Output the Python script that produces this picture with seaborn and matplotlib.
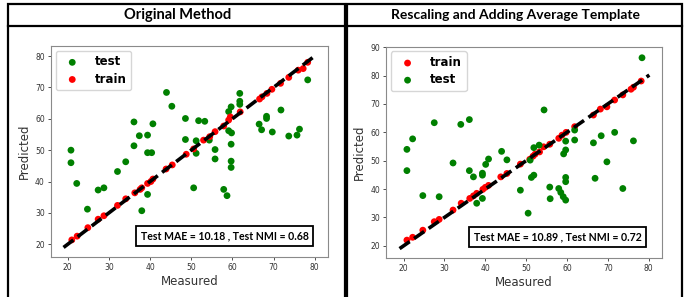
import numpy as np
import matplotlib
matplotlib.use("Agg")
import matplotlib.pyplot as plt
import seaborn as sns
from matplotlib.patches import Rectangle

# ---- data ----
# Original Method
orig_train_x = [21.0, 22.3, 24.9, 27.4, 28.8, 32.1, 34.1, 36.3, 37.6, 38.0, 39.4, 40.2, 40.7,
                43.9, 45.4, 48.8, 50.6, 53.0, 54.5, 55.8, 57.9, 59.1, 59.5, 61.9, 66.6, 67.2,
                68.4, 69.6, 71.7, 73.7, 76.0, 77.2, 78.3]
orig_train_y = [21.4, 22.6, 25.3, 28.0, 29.1, 32.4, 34.5, 36.4, 37.5, 38.0, 39.4, 40.0, 40.8,
                44.0, 45.3, 48.7, 50.4, 53.2, 54.3, 55.9, 57.7, 59.6, 60.6, 62.2, 66.3, 67.0,
                68.1, 69.4, 71.3, 73.2, 75.5, 76.0, 78.0]
orig_test_x = [20.8, 20.8, 22.2, 24.8, 27.4, 28.8, 32.1, 34.1, 36.1, 36.1, 37.4, 38.0, 39.4,
               39.4, 39.4, 40.4, 40.7, 44.0, 45.3, 48.6, 48.6, 50.6, 51.2, 51.2, 51.8, 53.3,
               54.4, 55.8, 55.8, 57.9, 58.7, 59.1, 59.7, 59.1, 59.8, 59.7, 59.7, 59.7, 61.8,
               61.8, 61.8, 66.5, 67.1, 68.3, 68.3, 69.7, 71.8, 73.7, 75.7, 76.3, 78.3]
orig_test_y = [50.0, 46.0, 39.4, 31.2, 37.3, 38.0, 43.2, 46.3, 59.0, 51.4, 54.6, 30.7, 54.8,
               35.9, 49.2, 49.2, 58.4, 68.4, 64.0, 60.1, 53.4, 38.0, 49.0, 53.0, 59.4, 59.2,
               53.2, 50.2, 47.2, 37.5, 35.5, 62.3, 63.8, 56.2, 55.5, 51.9, 46.5, 44.5, 68.1,
               65.6, 64.6, 58.3, 56.5, 60.8, 60.1, 55.8, 62.8, 54.5, 54.8, 56.7, 72.4]

# Rescaling and Adding Average Template
resc_train_x = [20.8, 22.2, 24.7, 27.5, 28.7, 32.1, 34.1, 36.2, 37.1, 37.9, 39.4, 40.0, 40.8,
                43.8, 45.3, 48.6, 50.9, 51.7, 52.2, 53.3, 54.3, 55.8, 58.0, 58.8, 59.8, 61.9,
                66.5, 68.2, 69.8, 71.7, 73.7, 75.7, 76.3, 78.2]
resc_train_y = [22.0, 23.0, 25.5, 28.5, 29.3, 32.6, 35.0, 36.7, 37.6, 38.5, 39.9, 40.6, 41.3,
                44.3, 45.5, 48.8, 50.5, 51.6, 52.3, 53.1, 54.9, 55.8, 57.9, 59.0, 60.0, 62.0,
                66.1, 68.2, 69.0, 71.4, 73.2, 75.2, 75.9, 78.1]
resc_test_x = [20.8, 20.8, 22.2, 24.7, 27.5, 28.7, 32.1, 34.0, 36.1, 36.1, 37.1, 37.9, 39.3,
               39.3, 39.3, 40.1, 40.8, 44.0, 45.3, 48.6, 50.5, 51.0, 51.3, 51.9, 51.9, 53.2,
               54.4, 55.8, 55.9, 58.0, 58.5, 59.1, 59.7, 59.2, 59.7, 59.7, 59.7, 59.7, 61.9,
               61.9, 66.5, 66.9, 68.4, 69.8, 71.7, 73.7, 76.3, 78.4]
resc_test_y = [54.0, 46.5, 57.7, 37.7, 63.4, 37.3, 49.2, 62.8, 64.5, 46.5, 44.3, 35.0, 36.7,
               45.6, 44.9, 48.7, 50.6, 53.3, 50.3, 39.6, 31.5, 50.2, 44.1, 44.9, 54.6, 55.5,
               67.9, 40.7, 36.6, 40.2, 38.8, 37.3, 36.1, 52.4, 53.8, 56.9, 44.1, 42.6, 60.8,
               57.3, 56.3, 43.8, 58.8, 49.6, 60.0, 40.2, 57.0, 86.3]

ideal_line = [19.0, 80.2]

titles = ["Original Method", "Rescaling and Adding Average Template"]
scores = ["Test MAE = 10.18 , Test NMI = 0.68", "Test MAE = 10.89 , Test NMI = 0.72"]

W, H = 697, 297
fig = plt.figure(figsize=(W / 100, H / 100), dpi=100)


def px_axes(x0, y0, x1, y1):
    # pixel box (top-left origin) -> figure fraction
    return fig.add_axes([x0 / W, (H - y1) / H, (x1 - x0) / W, (y1 - y0) / H])


def panel_frame(x0, x1, title, size):
    fig.add_artist(Rectangle((x0 / W, -0.05), (x1 - x0) / W, (H - 4) / H + 0.05,
                             transform=fig.transFigure, fill=False, ec="black", lw=1.6))
    fig.add_artist(plt.Line2D([x0 / W, x1 / W], [(H - 25.5) / H] * 2,
                              transform=fig.transFigure, color="black", lw=1.6))
    fig.text((x0 + x1) / 2 / W + 1 / W, (H - 15) / H, title, ha="center", va="center",
             fontsize=size, fontweight="bold", family="Lato")


def style_axes(ax, yticks):
    for s in ax.spines.values():
        s.set_color("#8a8a8a")
        s.set_linewidth(0.8)
    ax.tick_params(labelsize=5.5, colors="#333333", length=2.5, width=0.6, pad=2)
    ax.set_xticks([20, 30, 40, 50, 60, 70, 80])
    ax.set_yticks(yticks)
    ax.set_xlabel("Measured", fontsize=8.5, color="#333333", labelpad=2)
    ax.set_ylabel("Predicted", fontsize=8.5, color="#333333", labelpad=3)


def score_box(ax, text, x):
    ax.text(x, 0.098, text, transform=ax.transAxes, ha="center", va="center",
            fontsize=7.6, fontweight="bold", family="Lato",
            bbox=dict(boxstyle="square,pad=0.45", fc="white", ec="black", lw=1.3))


panel_frame(8, 345, titles[0], 10.5)
panel_frame(347, 682, titles[1], 10.0)

# left panel
ax1 = px_axes(51, 46, 328.3, 256.7)
sns.scatterplot(x=orig_test_x, y=orig_test_y, color="green", s=24, edgecolor="none",
                label="test", ax=ax1)
sns.scatterplot(x=orig_train_x, y=orig_train_y, color="red", s=24, edgecolor="none",
                label="train", ax=ax1)
ax1.plot(ideal_line, ideal_line, color="black", lw=2.6, ls=(0, (3.4, 1.5)), zorder=3)
style_axes(ax1, [20, 30, 40, 50, 60, 70, 80])
ax1.set_xlim(15.95, 83.3)
ax1.set_ylim(16.05, 83.2)
ax1.legend(loc="upper left", prop={"weight": "bold", "size": 8.5}, handletextpad=0.9,
           borderaxespad=0.4, labelspacing=0.35)
score_box(ax1, scores[0], 0.626)

# right panel
ax2 = px_axes(386.3, 46.7, 662, 257.7)
sns.scatterplot(x=resc_train_x, y=resc_train_y, color="red", s=24, edgecolor="none",
                label="train", ax=ax2)
sns.scatterplot(x=resc_test_x, y=resc_test_y, color="green", s=24, edgecolor="none",
                label="test", ax=ax2)
ax2.plot(ideal_line, ideal_line, color="black", lw=2.6, ls=(0, (3.4, 1.5)), zorder=3)
style_axes(ax2, [20, 30, 40, 50, 60, 70, 80, 90])
ax2.set_xlim(15.75, 83.3)
ax2.set_ylim(15.8, 90.2)
ax2.legend(loc="upper left", prop={"weight": "bold", "size": 8.5}, handletextpad=0.9,
           borderaxespad=0.4, labelspacing=0.35)
score_box(ax2, scores[1], 0.621)

fig.savefig("out.png", dpi=100)
